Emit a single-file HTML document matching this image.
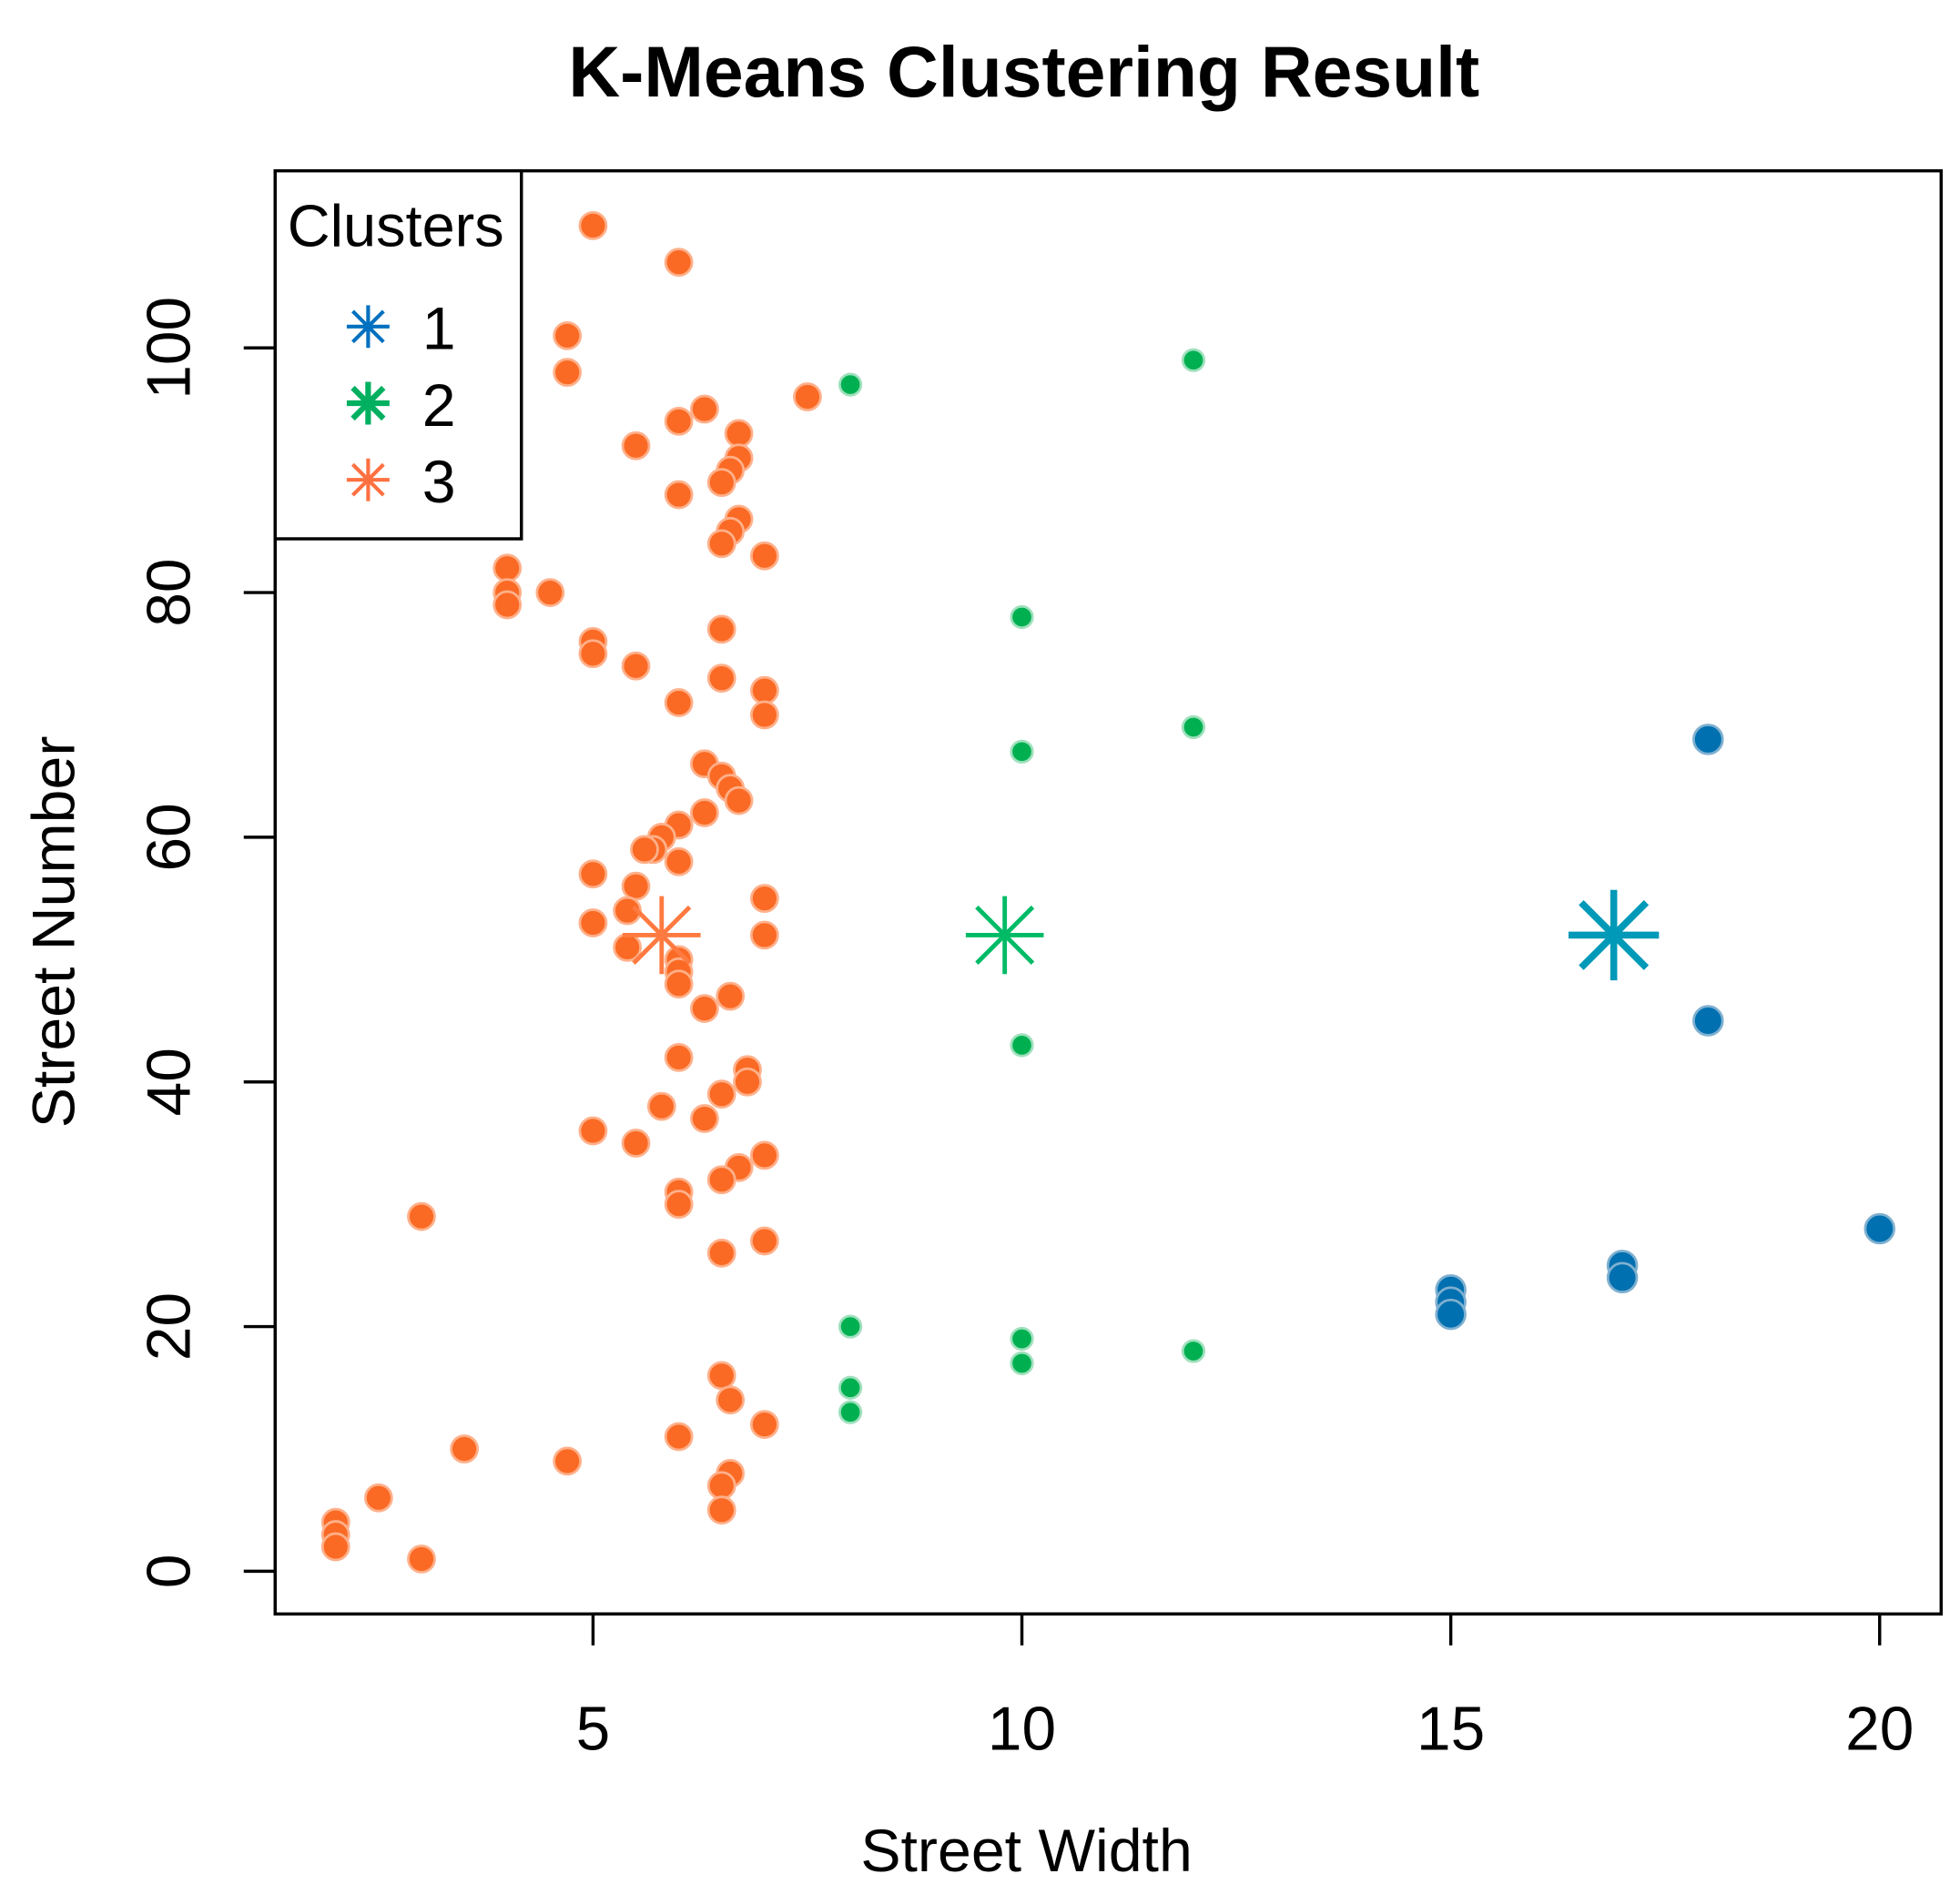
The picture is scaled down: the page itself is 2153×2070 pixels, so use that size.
<!DOCTYPE html>
<html><head><meta charset="utf-8"><style>
html,body{margin:0;padding:0;background:#fff}
svg{display:block}
text{font-family:"Liberation Sans",Arial,sans-serif;fill:#000}
</style></head><body>
<svg id="chart" width="2153" height="2070" viewBox="0 0 1560 1500" preserveAspectRatio="none" xmlns="http://www.w3.org/2000/svg">
<text x="815" y="77" font-size="57" font-weight="bold" text-anchor="middle">K-Means Clustering Result</text>
<rect x="219" y="136" width="1326" height="1149" fill="none" stroke="#000" stroke-width="2.5"/>
<g id="xaxis"></g>
<g id="yaxis"></g>
<text x="817" y="1490" font-size="48" text-anchor="middle">Street Width</text>
<text transform="translate(59,742) rotate(-90)" font-size="48" text-anchor="middle">Street Number</text>
<g id="points"></g>
<g>
<rect x="219" y="136" width="196" height="293" fill="#fff" stroke="#000" stroke-width="2.5"/>
<text x="315" y="196" font-size="47" text-anchor="middle">Clusters</text>
<g id="legend-items"></g>
</g>
</svg>
<script>
const xTicks = [5, 10, 15, 20];
const yTicks = [0, 20, 40, 60, 80, 100];
const c3x = [5,6,4.7,4.7,7.5,6,6.3,6.7,5.5,6.7,6.6,6.5,6,3,6.7,6.6,6.5,7,4,4,4.5,4,6.5,5,5,5.5,6.5,7,6,7,6.3,6.5,6.6,6.7,6.3,6,5.8,5.7,5.6,6,5,5.5,7,5.4,5,7,5.4,6,6,6,6.6,6.3,6,6.8,6.8,6.5,5.8,6.3,5,5.5,7,6.7,6.5,6,6,3,7,6.5,6.5,6.6,7,6,3.5,4.7,6.6,6.5,6.5,2.5,2,2,2,3];
const c3y = [110,107,101,98,96,94,95,93,92,91,90,89,88,87,86,85,84,83,82,80,80,79,77,76,75,74,73,72,71,70,66,65,64,63,62,61,60,59,59,58,57,56,55,54,53,52,51,50,49,48,47,46,42,41,40,39,38,37,36,35,34,33,32,31,30,29,27,26,16,14,12,11,10,9,8,7,5,6,4,3,2,1];
const c2x = [8,12,10,12,10,10,8,10,12,10,8,8];
const c2y = [97,99,78,69,67,43,20,19,18,17,15,13];
const c1x = [18,18,20,17,17,15,15,15];
const c1y = [68,45,28,25,24,23,22,21];
const centerX = [16.9, 9.8, 5.8];
const centerY = [52, 52, 52];
const clusterLabels = ["1", "2", "3"];

const NS = "http://www.w3.org/2000/svg";
const sx = v => 472 + (v - 5) * 68.27;
const sy = v => 1251 - v * 9.74;
function mk(tag, attrs, parent){const e=document.createElementNS(NS,tag);for(const k in attrs)e.setAttribute(k,attrs[k]);parent.appendChild(e);return e;}
const xa=document.getElementById('xaxis'), ya=document.getElementById('yaxis');
xTicks.forEach(t=>{
  const l=mk('line',{x1:sx(t),x2:sx(t),y1:1285,y2:1310,stroke:'#000','stroke-width':2.5},xa);
  
  
  const tx=mk('text',{x:sx(t),y:1393,'font-size':49,'text-anchor':'middle'},xa);tx.textContent=t;
  
  
});
mk('line',{x1:sx(5),x2:sx(20),y1:1285,y2:1285,stroke:'#000','stroke-width':2.5},xa);
yTicks.forEach(t=>{
  const l=mk('line',{x1:194,x2:219,y1:sy(t),y2:sy(t),stroke:'#000','stroke-width':2.5},ya);
  
  
  const tx=mk('text',{transform:`translate(151,${sy(t)}) rotate(-90)`,'font-size':49,'text-anchor':'middle'},ya);tx.textContent=t;
  
  
});
const pg=document.getElementById('points');
function pts(xs,ys,r,col,halo,name){
  xs.forEach((x,i)=>{
    const c=mk('circle',{cx:sx(x),cy:sy(ys[i]),r:r,fill:col,stroke:halo,'stroke-width':2},pg);
    
    
  });
}
pts(c3x,c3y,10.5,'#fa6a24','#ffb08a','point-cluster-3');
pts(c2x,c2y,8.5,'#00b050','#9fe0bd','point-cluster-2');
pts(c1x,c1y,11.5,'#0070b0','#7fb0d0','point-cluster-1');
const ccol=['#0099b8','#00bb66','#ff7a40'];
function star(cx,cy,r,col,w,parent,name){
  const g=mk('g',{stroke:col,'stroke-width':w},parent);
  
  
  mk('line',{x1:cx-r,x2:cx+r,y1:cy,y2:cy},g);
  mk('line',{x1:cx,x2:cx,y1:cy-r,y2:cy+r},g);
  const d=r*0.72;
  mk('line',{x1:cx-d,x2:cx+d,y1:cy-d,y2:cy+d},g);
  mk('line',{x1:cx-d,x2:cx+d,y1:cy+d,y2:cy-d},g);
}
centerX.forEach((x,i)=>star(sx(x),sy(centerY[i]),i==0?36:31,ccol[i],i==0?5.5:3.5,pg,'centroid-'+clusterLabels[i]));
const li=document.getElementById('legend-items');
const lcol=['#0070c0','#00b060','#ff7040'];
clusterLabels.forEach((lab,i)=>{
  const y=260+i*61;
  star(293,y,17,lcol[i],i==1?4.5:3,li,'legend-symbol-'+lab);
  const t=mk('text',{x:336,y:y+18,'font-size':48},li);t.textContent=lab;
  
  
});
</script>
</body></html>
